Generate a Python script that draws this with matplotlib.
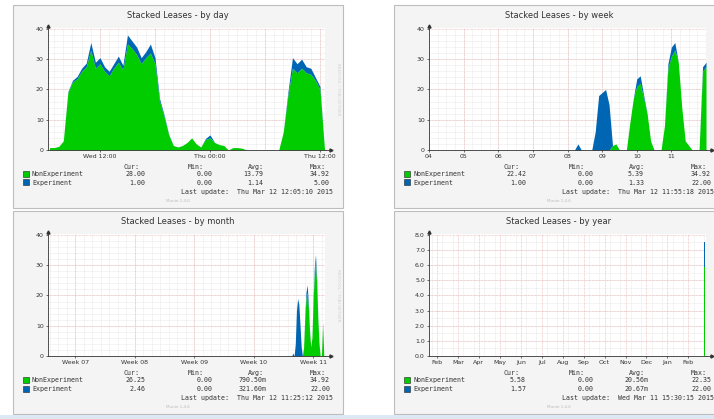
import numpy as np
import matplotlib.pyplot as plt
from matplotlib.patches import Rectangle

W, H = 714, 419
GREEN = '#00cc00'
BLUE = '#0066b3'

# ---------------- data ----------------
# by day: hours since Wed 00:00, every 30 min
day_t = np.arange(6.5, 36.51, 0.5)
day_nonexp = [0.8, 0.8, 1.2, 3.0, 19.0, 22.5, 23.5, 26.0, 27.5, 33.0,
              27.0, 28.5, 26.0, 24.5, 27.0, 29.0, 26.5, 35.0, 33.5, 31.5,
              28.5, 30.5, 32.0, 28.5, 16.0, 11.0, 5.0, 1.5, 1.0, 1.5,
              2.5, 4.0, 2.0, 1.0, 3.5, 4.0, 2.5, 1.8, 1.5, 0.0,
              0.8, 0.8, 0.6, 0, 0, 0, 0, 0, 0, 0,
              0, 6.0, 18.0, 27.0, 25.5, 27.0, 25.5, 25.0, 23.0, 20.0, 0]
day_exp = [0, 0, 0, 0, 0.3, 0.5, 0.8, 1.0, 1.2, 2.5,
           2.0, 2.0, 1.5, 1.5, 1.5, 2.0, 1.5, 3.0, 2.5, 2.5,
           2.0, 2.0, 3.0, 2.0, 1.0, 0.5, 0.2, 0, 0, 0,
           0, 0, 0, 0, 0.3, 1.0, 0, 0, 0, 0,
           0, 0, 0, 0, 0, 0, 0, 0, 0, 0,
           0, 0, 1.0, 3.5, 3.0, 3.0, 2.0, 2.0, 1.0, 1.0, 0]

# by week: day of month
week_t = np.linspace(8.0, 12.0, 41)
week_nonexp = [0, 0, 0, 0, 0, 0, 0, 0, 0, 0,
               0, 0, 0, 1.5, 2.0, 0, 0, 0, 9, 17,
               21, 22, 17, 12, 3, 0, 0, 0, 8, 27,
               31, 33, 29, 14, 3, 1.5, 0, 0, 0, 26, 27.5]
week_exp = [0, 0, 0, 2.0, 0, 0, 0, 0, 6, 18,
            19, 20, 15, 0, 0, 0, 0, 0, 0, 0,
            2.5, 2.5, 1.0, 0, 0, 0, 0, 0, 0, 1.5,
            3.0, 2.5, 0, 0, 0, 0, 0, 0, 0, 1.5, 1.5]

# by month: week number
month_t = np.linspace(10.60, 11.20, 31)
month_nonexp = [0, 0, 0, 0, 0, 0, 0, 0, 0, 0,
                0, 0, 3, 12, 19, 21, 16, 8, 3, 6,
                18, 27, 31, 24, 12, 4, 0, 0, 11, 0, 0]
month_exp = [0, 0, 0, 1.0, 0, 4, 15, 19, 17, 10,
             3, 0, 0, 1, 2, 2.5, 1.5, 0.5, 0, 0,
             1, 2, 2.5, 1.5, 0.5, 0, 0, 0, 0, 0, 0]

# by year: month index (0 = Feb)
year_t = [12.70, 12.76, 12.82]
year_nonexp = [0, 5.9, 0]
year_exp = [0, 1.6, 0]

day_ticks = [12, 24, 36]
day_labels = ['Wed 12:00', 'Thu 00:00', 'Thu 12:00']
week_ticks = [4, 5, 6, 7, 8, 9, 10, 11]
week_labels = ['04', '05', '06', '07', '08', '09', '10', '11']
month_ticks = [7, 8, 9, 10, 11]
month_labels = ['Week 07', 'Week 08', 'Week 09', 'Week 10', 'Week 11']
year_ticks = list(range(13))
year_labels = ['Feb', 'Mar', 'Apr', 'May', 'Jun', 'Jul', 'Aug', 'Sep',
               'Oct', 'Nov', 'Dec', 'Jan', 'Feb']

day_stats = [['28.00', '0.00', '13.79', '34.92'], ['1.00', '0.00', '1.14', '5.00']]
week_stats = [['22.42', '0.00', '5.39', '34.92'], ['1.00', '0.00', '1.33', '22.00']]
month_stats = [['26.25', '0.00', '790.50m', '34.92'], ['2.46', '0.00', '321.60m', '22.00']]
year_stats = [['5.58', '0.00', '20.56m', '22.35'], ['1.57', '0.00', '20.67m', '22.00']]


def px_axes(fig, x0, y0, x1, y1):
    return fig.add_axes([x0 / W, 1 - y1 / H, (x1 - x0) / W, (y1 - y0) / H])


def ptext(fig, x, y, s, **kw):
    fig.text(x / W, 1 - y / H, s, **kw)


def draw_panel(fig, ox, oy, title, t, nonexp, exp, xlim, xticks, xlabels,
               xminor, xmajor, ylim, yticks, ylabels, yminor, stats, updated,
               step=None):
    fig.patches.append(Rectangle((ox / W, 1 - (oy + 203) / H), 330 / W, 203 / H,
                                 transform=fig.transFigure, facecolor='#f4f4f4',
                                 edgecolor='#bdbdbd', lw=0.8, zorder=-1))
    ax = px_axes(fig, ox + 35, oy + 23, ox + 312, oy + 145)
    ax.set_facecolor('white')
    for v in xminor:
        ax.axvline(v, color='#d9d9d9', lw=0.4, ls=(0, (1, 1)), zorder=0)
    for v in yminor:
        ax.axhline(v, color='#d9d9d9', lw=0.4, ls=(0, (1, 1)), zorder=0)
    for v in xmajor:
        ax.axvline(v, color='#eab4b4', lw=0.5, ls=(0, (1, 1)), zorder=0)
    for v in yticks[1:]:
        ax.axhline(v, color='#eab4b4', lw=0.5, ls=(0, (1, 1)), zorder=0)

    nonexp = np.array(nonexp)
    exp = np.array(exp)
    ax.fill_between(t, 0, nonexp, color=GREEN, lw=0, step=step, zorder=2)
    ax.fill_between(t, nonexp, nonexp + exp, color=BLUE, lw=0, step=step, zorder=2)

    ax.set_xlim(*xlim)
    ax.set_ylim(*ylim)
    ax.set_xticks(xticks, xlabels)
    ax.set_yticks(yticks, ylabels)
    ax.tick_params(length=1.5, width=0.5, pad=1.5, labelsize=4.5,
                   colors='#333333')
    for s in ['top', 'right']:
        ax.spines[s].set_visible(False)
    for s in ['left', 'bottom']:
        ax.spines[s].set_color('#333333')
        ax.spines[s].set_linewidth(0.6)
    ax.plot([1.0, 1.02], [0, 0], transform=ax.transAxes, clip_on=False,
            color='#333333', lw=0.6)
    ax.plot([1.022], [0], marker='>', ms=2.2, color='#333333',
            transform=ax.transAxes, clip_on=False)
    ax.plot([0], [1.02], marker='^', ms=2.2, color='#333333',
            transform=ax.transAxes, clip_on=False)

    ptext(fig, ox + 165, oy + 10, title, ha='center', va='center',
          fontsize=6, color='#333333')
    if ox + 330 < W:
        ptext(fig, ox + 325, oy + 84, 'RRDTOOL / TOBI OETIKER', ha='center',
              va='center', rotation=270, fontsize=3, color='#d0d0d0')

    mono = dict(family='DejaVu Sans Mono', fontsize=4.8, color='#333333',
                va='center')
    for hx, lab in zip([118, 183, 243, 305], ['Cur:', 'Min:', 'Avg:', 'Max:']):
        ptext(fig, ox + hx, oy + 162, lab, ha='center', **mono)
    for row, (name, col, vals) in enumerate(zip(['NonExperiment', 'Experiment'],
                                                 [GREEN, BLUE], stats)):
        y = oy + 169 + row * 8.5
        fig.patches.append(Rectangle(((ox + 10) / W, 1 - (y + 3) / H), 6 / W, 6 / H,
                                     transform=fig.transFigure, facecolor=col,
                                     edgecolor='#222222', lw=0.4))
        ptext(fig, ox + 19, y, name, ha='left', **mono)
        for rx, v in zip([132, 200, 250, 317], vals):
            if v.endswith('m'):
                rx += 4
            ptext(fig, ox + rx, y, v, ha='right', **mono)
    ptext(fig, ox + 320, oy + 187, 'Last update:  ' + updated, ha='right', **mono)
    ptext(fig, ox + 165, oy + 196, 'Munin 1.4.6', ha='center', va='center',
          fontsize=3, color='#bbbbbb')
    return ax


fig = plt.figure(figsize=(W / 100, H / 100), dpi=100)
fig.patch.set_facecolor('white')

draw_panel(fig, 13, 5, 'Stacked Leases - by day', day_t, day_nonexp, day_exp,
           (6.33, 36.55), day_ticks, day_labels,
           np.arange(7, 37, 1), np.arange(12, 37, 6),
           (0, 40.3), [0, 10, 20, 30, 40], ['0', '10', '20', '30', '40'],
           np.arange(2, 40, 2), day_stats, 'Thu Mar 12 12:05:10 2015')

draw_panel(fig, 394, 5, 'Stacked Leases - by week', week_t, week_nonexp, week_exp,
           (4.0, 12.0), week_ticks, week_labels,
           np.arange(4.25, 12, 0.25), np.arange(5, 12, 1),
           (0, 40.3), [0, 10, 20, 30, 40], ['0', '10', '20', '30', '40'],
           np.arange(2, 40, 2), week_stats, 'Thu Mar 12 11:55:18 2015')

draw_panel(fig, 13, 211, 'Stacked Leases - by month', month_t, month_nonexp, month_exp,
           (6.54, 11.2), month_ticks, month_labels,
           np.arange(6.57, 11.2, 1 / 7), np.arange(7, 12, 1),
           (0, 40.3), [0, 10, 20, 30, 40], ['0', '10', '20', '30', '40'],
           np.arange(2, 40, 2), month_stats, 'Thu Mar 12 11:25:12 2015')

draw_panel(fig, 394, 211, 'Stacked Leases - by year', year_t, year_nonexp, year_exp,
           (-0.38, 12.84), year_ticks, year_labels,
           np.arange(-0.25, 12.8, 0.5), np.arange(0, 13, 1),
           (0, 8.05), [0, 1, 2, 3, 4, 5, 6, 7, 8],
           ['0.0', '1.0', '2.0', '3.0', '4.0', '5.0', '6.0', '7.0', '8.0'],
           np.arange(0.5, 8, 0.5), year_stats, 'Wed Mar 11 15:30:15 2015',
           step='mid')

fig.patches.append(Rectangle((0, 0), 1, 4 / H, transform=fig.transFigure,
                             facecolor='#dce8f4', edgecolor='none', zorder=-1))

fig.savefig('out.png', dpi=100)
